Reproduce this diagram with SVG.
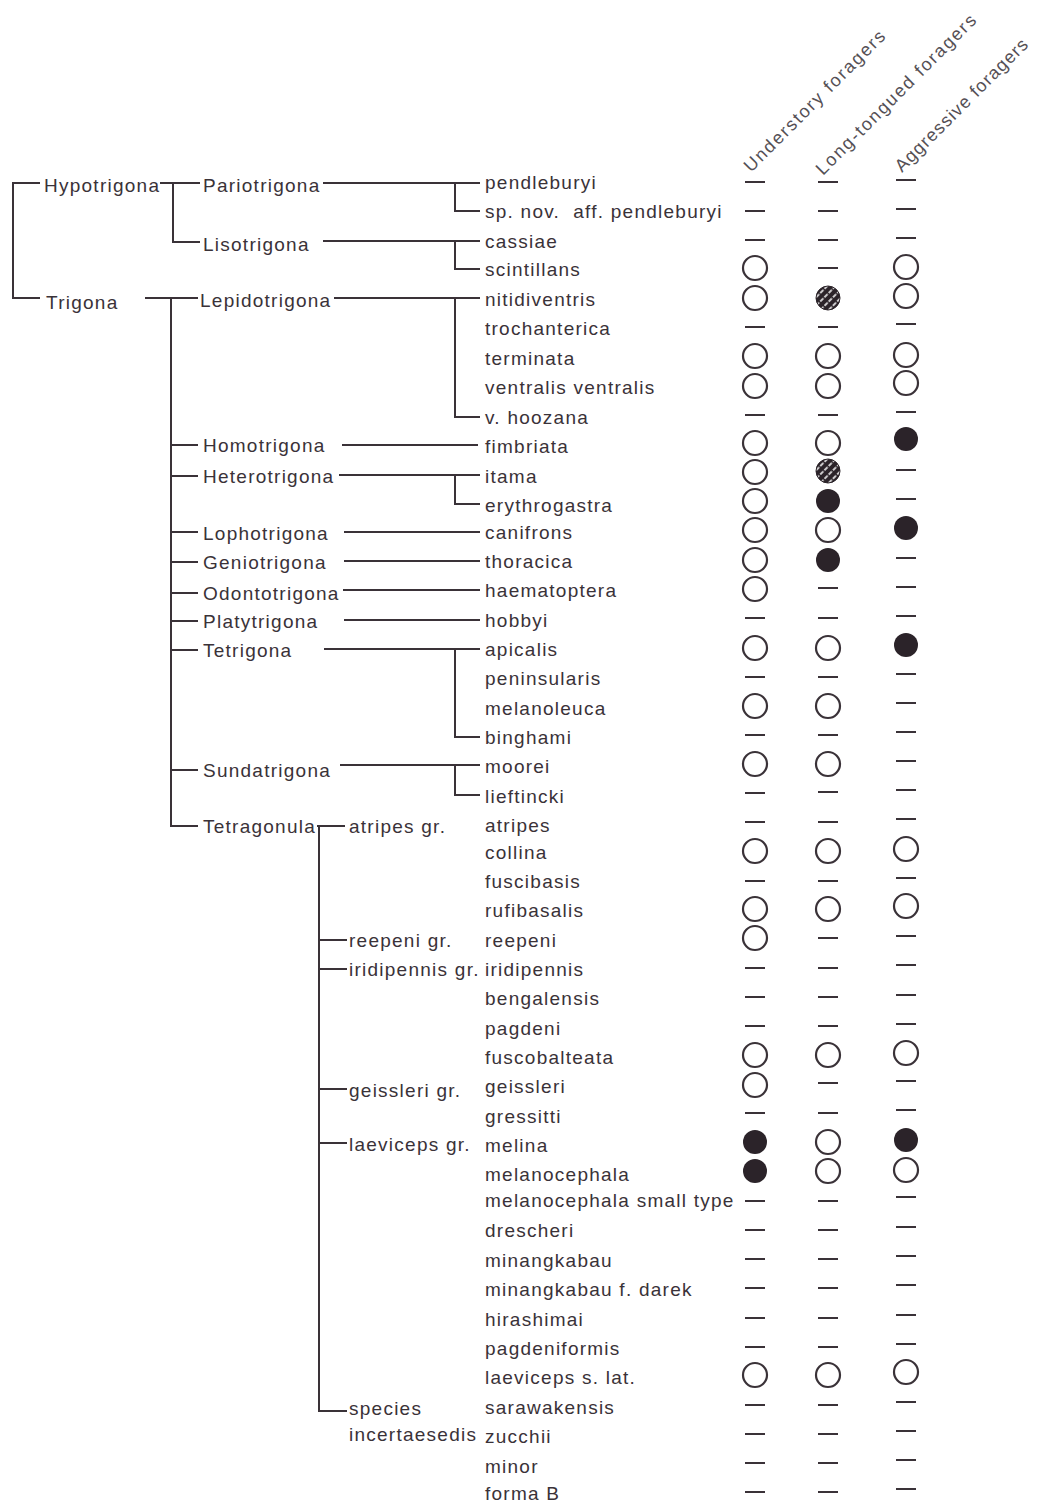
<svg xmlns="http://www.w3.org/2000/svg" xmlns:xlink="http://www.w3.org/1999/xlink" width="1040" height="1503" viewBox="0 0 1040 1503">
<style>
.t{font-family:"Liberation Sans",Arial,sans-serif;font-size:19px;letter-spacing:1.25px;fill:#3a3238}
.hd{font-family:"Liberation Sans",Arial,sans-serif;font-size:18px;letter-spacing:1.8px;fill:#555055}
.ln{stroke:#3a3238;stroke-width:2;fill:none}
</style>
<defs>
<pattern id="hp" width="6" height="6" patternUnits="userSpaceOnUse" patternTransform="rotate(-45)">
<rect width="6" height="6" fill="#2b2329"/>
<line x1="0" y1="3" x2="6" y2="3" stroke="#ffffff" stroke-width="1.3" stroke-dasharray="2.5 1.5"/>
</pattern>
<path id="d" d="M-10,0h20" stroke="#3a3238" stroke-width="2"/>
<circle id="o" r="12" fill="none" stroke="#3a3238" stroke-width="2.2"/>
<circle id="f" r="12" fill="#2b2329"/>
<circle id="h" r="12" fill="url(#hp)" stroke="#2b2329" stroke-width="1"/>
</defs>
<rect width="1040" height="1503" fill="#ffffff"/>

<g id="headers">
<text class="hd" transform="translate(751,173) rotate(-45)">Understory foragers</text>
<text class="hd" transform="translate(823,176) rotate(-45)">Long-tongued foragers</text>
<text class="hd" transform="translate(902,173) rotate(-45)" style="letter-spacing:1.1px">Aggressive foragers</text>
</g>

<g id="connectors" class="ln">
<path d="M40,183H13V298H40"/>
<path d="M160,183H200M173,183V242H200"/>
<path d="M323,183H480M455,183V211H480"/>
<path d="M323,241H480M455,241V269H480"/>
<path d="M145,298H198M171,298V826H198"/>
<path d="M171,445H198M171,476H198M171,532H198M171,562H198M171,593H198M171,621H198M171,650H198M171,770H198"/>
<path d="M334,298H480M455,298V417H480"/>
<path d="M342,445H478"/>
<path d="M339,475H480M455,475V504H480"/>
<path d="M344,532H480"/>
<path d="M344,561H480"/>
<path d="M343,590H480"/>
<path d="M344,620H480"/>
<path d="M324,649H480M455,649V737H480"/>
<path d="M340,765H480M455,765V795H480"/>
<path d="M317,826H345M319,826V1411H347"/>
<path d="M319,940H347M319,969H347M319,1089H347M319,1143H347"/>
</g>

<g id="taxa">
<text id="n-hypotrigona" class="t" x="44" y="192">Hypotrigona</text>
<text id="n-trigona" class="t" x="46" y="309">Trigona</text>
<text id="n-pariotrigona" class="t" x="203" y="192">Pariotrigona</text>
<text id="n-lisotrigona" class="t" x="203" y="251">Lisotrigona</text>
<text id="n-lepidotrigona" class="t" x="200" y="307">Lepidotrigona</text>
<text id="n-homotrigona" class="t" x="203" y="452">Homotrigona</text>
<text id="n-heterotrigona" class="t" x="203" y="483">Heterotrigona</text>
<text id="n-lophotrigona" class="t" x="203" y="540">Lophotrigona</text>
<text id="n-geniotrigona" class="t" x="203" y="569">Geniotrigona</text>
<text id="n-odontotrigona" class="t" x="203" y="600">Odontotrigona</text>
<text id="n-platytrigona" class="t" x="203" y="628">Platytrigona</text>
<text id="n-tetrigona" class="t" x="203" y="657">Tetrigona</text>
<text id="n-sundatrigona" class="t" x="203" y="777">Sundatrigona</text>
<text id="n-tetragonula" class="t" x="203" y="833">Tetragonula</text>
<text id="n-atripes-gr" class="t" x="349" y="833">atripes gr.</text>
<text id="n-reepeni-gr" class="t" x="349" y="947">reepeni gr.</text>
<text id="n-iridipennis-gr" class="t" x="349" y="976">iridipennis gr.</text>
<text id="n-geissleri-gr" class="t" x="349" y="1097">geissleri gr.</text>
<text id="n-laeviceps-gr" class="t" x="349" y="1151">laeviceps gr.</text>
<g id="n-incertae"><text class="t" x="349" y="1415">species</text><text class="t" x="349" y="1441">incertaesedis</text></g>
</g>

<g id="species">
<g id="s1"><text class="t" x="485" y="189">pendleburyi</text><use href="#d" x="755" y="182"/><use href="#d" x="828" y="182"/><use href="#d" x="906" y="180"/></g>
<g id="s2"><text class="t" x="485" y="218" xml:space="preserve">sp. nov.  aff. pendleburyi</text><use href="#d" x="755" y="211"/><use href="#d" x="828" y="211"/><use href="#d" x="906" y="209"/></g>
<g id="s3"><text class="t" x="485" y="248">cassiae</text><use href="#d" x="755" y="240"/><use href="#d" x="828" y="240"/><use href="#d" x="906" y="238"/></g>
<g id="s4"><text class="t" x="485" y="276">scintillans</text><use href="#o" x="755" y="268"/><use href="#d" x="828" y="268"/><use href="#o" x="906" y="267"/></g>
<g id="s5"><text class="t" x="485" y="306">nitidiventris</text><use href="#o" x="755" y="298"/><use href="#h" x="828" y="298"/><use href="#o" x="906" y="296"/></g>
<g id="s6"><text class="t" x="485" y="335">trochanterica</text><use href="#d" x="755" y="327"/><use href="#d" x="828" y="327"/><use href="#d" x="906" y="324"/></g>
<g id="s7"><text class="t" x="485" y="365">terminata</text><use href="#o" x="755" y="356"/><use href="#o" x="828" y="356"/><use href="#o" x="906" y="355"/></g>
<g id="s8"><text class="t" x="485" y="394">ventralis ventralis</text><use href="#o" x="755" y="386"/><use href="#o" x="828" y="386"/><use href="#o" x="906" y="383"/></g>
<g id="s9"><text class="t" x="485" y="424">v. hoozana</text><use href="#d" x="755" y="415"/><use href="#d" x="828" y="415"/><use href="#d" x="906" y="412"/></g>
<g id="s10"><text class="t" x="485" y="453">fimbriata</text><use href="#o" x="755" y="443"/><use href="#o" x="828" y="443"/><use href="#f" x="906" y="439"/></g>
<g id="s11"><text class="t" x="485" y="483">itama</text><use href="#o" x="755" y="472"/><use href="#h" x="828" y="471"/><use href="#d" x="906" y="470"/></g>
<g id="s12"><text class="t" x="485" y="512">erythrogastra</text><use href="#o" x="755" y="501"/><use href="#f" x="828" y="501"/><use href="#d" x="906" y="499"/></g>
<g id="s13"><text class="t" x="485" y="539">canifrons</text><use href="#o" x="755" y="530"/><use href="#o" x="828" y="530"/><use href="#f" x="906" y="528"/></g>
<g id="s14"><text class="t" x="485" y="568">thoracica</text><use href="#o" x="755" y="560"/><use href="#f" x="828" y="560"/><use href="#d" x="906" y="558"/></g>
<g id="s15"><text class="t" x="485" y="597">haematoptera</text><use href="#o" x="755" y="589"/><use href="#d" x="828" y="588"/><use href="#d" x="906" y="587"/></g>
<g id="s16"><text class="t" x="485" y="627">hobbyi</text><use href="#d" x="755" y="618"/><use href="#d" x="828" y="618"/><use href="#d" x="906" y="616"/></g>
<g id="s17"><text class="t" x="485" y="656">apicalis</text><use href="#o" x="755" y="648"/><use href="#o" x="828" y="648"/><use href="#f" x="906" y="645"/></g>
<g id="s18"><text class="t" x="485" y="685">peninsularis</text><use href="#d" x="755" y="677"/><use href="#d" x="828" y="677"/><use href="#d" x="906" y="674"/></g>
<g id="s19"><text class="t" x="485" y="715">melanoleuca</text><use href="#o" x="755" y="706"/><use href="#o" x="828" y="706"/><use href="#d" x="906" y="703"/></g>
<g id="s20"><text class="t" x="485" y="744">binghami</text><use href="#d" x="755" y="735"/><use href="#d" x="828" y="735"/><use href="#d" x="906" y="732"/></g>
<g id="s21"><text class="t" x="485" y="773">moorei</text><use href="#o" x="755" y="764"/><use href="#o" x="828" y="764"/><use href="#d" x="906" y="761"/></g>
<g id="s22"><text class="t" x="485" y="803">lieftincki</text><use href="#d" x="755" y="793"/><use href="#d" x="828" y="792"/><use href="#d" x="906" y="790"/></g>
<g id="s23"><text class="t" x="485" y="832">atripes</text><use href="#d" x="755" y="822"/><use href="#d" x="828" y="822"/><use href="#d" x="906" y="819"/></g>
<g id="s24"><text class="t" x="485" y="859">collina</text><use href="#o" x="755" y="851"/><use href="#o" x="828" y="851"/><use href="#o" x="906" y="849"/></g>
<g id="s25"><text class="t" x="485" y="888">fuscibasis</text><use href="#d" x="755" y="881"/><use href="#d" x="828" y="881"/><use href="#d" x="906" y="878"/></g>
<g id="s26"><text class="t" x="485" y="917">rufibasalis</text><use href="#o" x="755" y="909"/><use href="#o" x="828" y="909"/><use href="#o" x="906" y="906"/></g>
<g id="s27"><text class="t" x="485" y="947">reepeni</text><use href="#o" x="755" y="938"/><use href="#d" x="828" y="938"/><use href="#d" x="906" y="936"/></g>
<g id="s28"><text class="t" x="485" y="976">iridipennis</text><use href="#d" x="755" y="968"/><use href="#d" x="828" y="968"/><use href="#d" x="906" y="965"/></g>
<g id="s29"><text class="t" x="485" y="1005">bengalensis</text><use href="#d" x="755" y="997"/><use href="#d" x="828" y="997"/><use href="#d" x="906" y="995"/></g>
<g id="s30"><text class="t" x="485" y="1035">pagdeni</text><use href="#d" x="755" y="1026"/><use href="#d" x="828" y="1026"/><use href="#d" x="906" y="1024"/></g>
<g id="s31"><text class="t" x="485" y="1064">fuscobalteata</text><use href="#o" x="755" y="1055"/><use href="#o" x="828" y="1055"/><use href="#o" x="906" y="1053"/></g>
<g id="s32"><text class="t" x="485" y="1093">geissleri</text><use href="#o" x="755" y="1085"/><use href="#d" x="828" y="1083"/><use href="#d" x="906" y="1081"/></g>
<g id="s33"><text class="t" x="485" y="1123">gressitti</text><use href="#d" x="755" y="1113"/><use href="#d" x="828" y="1113"/><use href="#d" x="906" y="1110"/></g>
<g id="s34"><text class="t" x="485" y="1152">melina</text><use href="#f" x="755" y="1142"/><use href="#o" x="828" y="1142"/><use href="#f" x="906" y="1140"/></g>
<g id="s35"><text class="t" x="485" y="1181">melanocephala</text><use href="#f" x="755" y="1171"/><use href="#o" x="828" y="1171"/><use href="#o" x="906" y="1170"/></g>
<g id="s36"><text class="t" x="485" y="1207">melanocephala small type</text><use href="#d" x="755" y="1201"/><use href="#d" x="828" y="1201"/><use href="#d" x="906" y="1197"/></g>
<g id="s37"><text class="t" x="485" y="1237">drescheri</text><use href="#d" x="755" y="1230"/><use href="#d" x="828" y="1230"/><use href="#d" x="906" y="1227"/></g>
<g id="s38"><text class="t" x="485" y="1267">minangkabau</text><use href="#d" x="755" y="1259"/><use href="#d" x="828" y="1259"/><use href="#d" x="906" y="1256"/></g>
<g id="s39"><text class="t" x="485" y="1296">minangkabau f. darek</text><use href="#d" x="755" y="1288"/><use href="#d" x="828" y="1288"/><use href="#d" x="906" y="1285"/></g>
<g id="s40"><text class="t" x="485" y="1326">hirashimai</text><use href="#d" x="755" y="1318"/><use href="#d" x="828" y="1318"/><use href="#d" x="906" y="1315"/></g>
<g id="s41"><text class="t" x="485" y="1355">pagdeniformis</text><use href="#d" x="755" y="1347"/><use href="#d" x="828" y="1347"/><use href="#d" x="906" y="1344"/></g>
<g id="s42"><text class="t" x="485" y="1384">laeviceps s. lat.</text><use href="#o" x="755" y="1375"/><use href="#o" x="828" y="1375"/><use href="#o" x="906" y="1372"/></g>
<g id="s43"><text class="t" x="485" y="1414">sarawakensis</text><use href="#d" x="755" y="1405"/><use href="#d" x="828" y="1405"/><use href="#d" x="906" y="1402"/></g>
<g id="s44"><text class="t" x="485" y="1443">zucchii</text><use href="#d" x="755" y="1434"/><use href="#d" x="828" y="1434"/><use href="#d" x="906" y="1431"/></g>
<g id="s45"><text class="t" x="485" y="1473">minor</text><use href="#d" x="755" y="1463"/><use href="#d" x="828" y="1463"/><use href="#d" x="906" y="1460"/></g>
<g id="s46"><text class="t" x="485" y="1500">forma B</text><use href="#d" x="755" y="1492"/><use href="#d" x="828" y="1492"/><use href="#d" x="906" y="1489"/></g>
</g>
</svg>
